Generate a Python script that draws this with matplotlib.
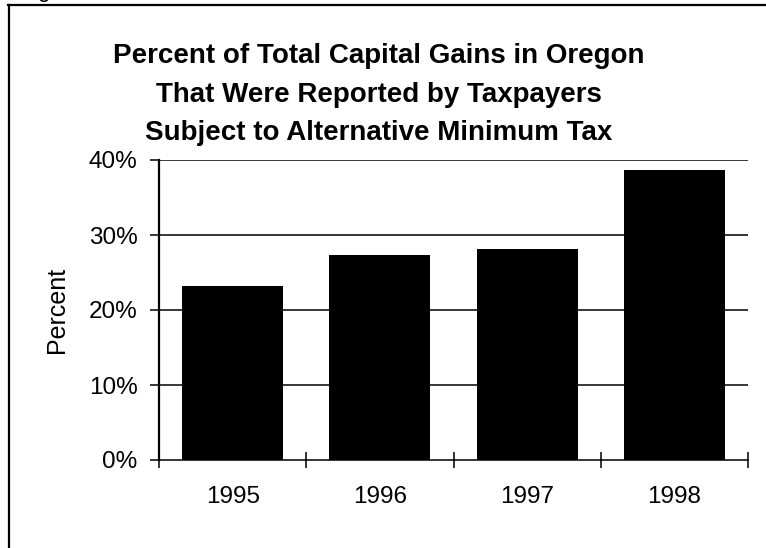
import matplotlib
matplotlib.use("Agg")
import matplotlib.pyplot as plt
from matplotlib.lines import Line2D
from matplotlib.ticker import FuncFormatter

plt.rcParams['font.family'] = ['Liberation Sans', 'DejaVu Sans']

years = ["1995", "1996", "1997", "1998"]
amt_share = [23.2, 27.4, 28.2, 38.7]
y_ticks = [0, 10, 20, 30, 40]

W, H = 766, 548
fig = plt.figure(figsize=(W / 100, H / 100), dpi=100)

def fx(px):
    return px / W

def fy(py):
    return 1 - py / H

ax = fig.add_axes([fx(159), fy(460), fx(748) - fx(159), fy(160) - fy(460)])

positions = [i + 0.5 for i in range(len(years))]
ax.bar(positions, amt_share, width=0.685, color='black', zorder=3)

ax.set_xlim(0, len(years))
ax.set_ylim(0, 40)
ax.set_yticks(y_ticks)
ax.yaxis.set_major_formatter(FuncFormatter(lambda v, _: f"{v:.0f}%"))
for v in y_ticks[1:]:
    ax.axhline(v, color='black', linewidth=1.1, zorder=1)

# category labels centred, tick marks on the category boundaries
ax.set_xticks(range(len(years) + 1))
ax.set_xticklabels([])
ax.set_xticks(positions, minor=True)
ax.set_xticklabels(years, minor=True)
ax.tick_params(axis='x', which='major', direction='inout', length=12, width=1.1)
ax.tick_params(axis='x', which='minor', length=0, pad=18.5, labelsize=17.5)
ax.tick_params(axis='y', direction='out', length=6.5, width=1.1, pad=9, labelsize=17.5)

for side in ('top', 'right'):
    ax.spines[side].set_visible(False)
ax.spines['left'].set_linewidth(1.6)
ax.spines['bottom'].set_linewidth(1.1)

ax.set_ylabel("Percent", fontsize=18, labelpad=14)

title_lines = [
    "Percent of Total Capital Gains in Oregon",
    "That Were Reported by Taxpayers",
    "Subject to Alternative Minimum Tax",
]
for i, line in enumerate(title_lines):
    fig.text(fx(379), fy(63 + 38.5 * i), line, ha='center', va='baseline',
             fontsize=20, fontweight='bold')

# outer frame around the chart area
fig.add_artist(Line2D([fx(8.5), fx(8.5)], [fy(5), fy(H + 5)], color='black', linewidth=1.6))
fig.add_artist(Line2D([fx(8), fx(W + 5)], [fy(5), fy(5)], color='black', linewidth=1.6))
fig.text(fx(37), fy(-3), "g", fontsize=16, ha='left', va='baseline')

fig.savefig("out.png", dpi=100)
